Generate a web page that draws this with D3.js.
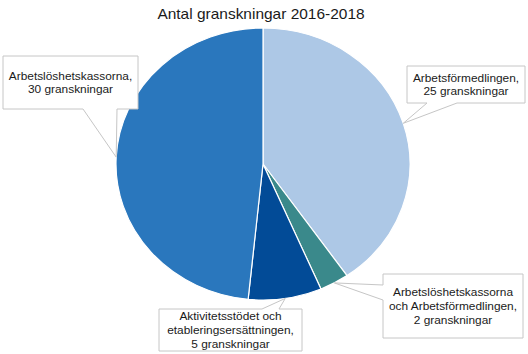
<!DOCTYPE html>
<html>
<head>
<meta charset="utf-8">
<script src="https://d3js.org/d3.v7.min.js"></script>
<style>
  body { margin: 0; background: #fff; }
  text { font-family: "Liberation Sans", Arial, sans-serif; fill: #1a1a1a; }
</style>
</head>
<body>
<script>
  const w = 528
  const h = 354
  const title = "Antal granskningar 2016-2018"
  // slices in clockwise order from 12 o'clock
  const categories = ["Arbetsförmedlingen", "Arbetslöshetskassorna och Arbetsförmedlingen", "Aktivitetsstödet och etableringsersättningen", "Arbetslöshetskassorna"]
  const values = [25, 2, 5, 30]
  const colors = ["#adc8e6", "#3a898b", "#024b97", "#2a77bd"]
  const labelLines = [
    ["Arbetsförmedlingen,", "25 granskningar"],
    ["Arbetslöshetskassorna", "och Arbetsförmedlingen,", "2 granskningar"],
    ["Aktivitetsstödet  och", "etableringsersättningen,", "5 granskningar"],
    ["Arbetslöshetskassorna,", "30 granskningar"]
  ]
  // label boxes: x, y, width, height, side of the pointer, pointer base offsets along that side
  const boxes = [
    { x: 407, y: 66, w: 118, h: 37, side: "bottom", a: 20, b: 50 },
    { x: 383, y: 274, w: 140, h: 64, side: "left", a: 11, b: 26 },
    { x: 159, y: 309, w: 143, h: 42, side: "top", a: 103, b: 120 },
    { x: 3, y: 56, w: 135, h: 53, side: "bottom", a: 80, b: 114 }
  ]

  const cx = 263, cy = 164, rx = 147, ry = 136
  // the whole source picture is a little wider than tall
  const stretch = 1.08

  const svg = d3.select("body").append("svg")
    .attr("width", w)
    .attr("height", h)

  svg.append("text")
    .attr("transform", `translate(261,19) scale(1.06,1)`)
    .attr("text-anchor", "middle")
    .style("font-size", "14.6px")
    .text(title)

  const pie = d3.pie().sort(null).value(d => d)(values)
  const arc = d3.arc().innerRadius(0).outerRadius(rx)

  svg.append("g")
    .attr("transform", `translate(${cx},${cy}) scale(1,${ry / rx})`)
    .selectAll("path")
    .data(pie)
    .join("path")
    .attr("d", arc)
    .attr("fill", (d, i) => colors[i])
    .attr("stroke", "#fff")
    .attr("stroke-width", 1.2)
    .attr("vector-effect", "non-scaling-stroke")

  // pointer tip sits on the ellipse edge at the slice's mid angle
  function tipOf(d) {
    const m = (d.startAngle + d.endAngle) / 2
    return [cx + rx * Math.sin(m), cy - ry * Math.cos(m)]
  }

  function calloutPath(b, tip) {
    const x0 = b.x, y0 = b.y, x1 = b.x + b.w, y1 = b.y + b.h
    let pts
    if (b.side === "bottom") {
      pts = [[x0, y0], [x1, y0], [x1, y1], [x0 + b.b, y1], tip, [x0 + b.a, y1], [x0, y1]]
    } else if (b.side === "top") {
      pts = [[x0, y0], [x0 + b.a, y0], tip, [x0 + b.b, y0], [x1, y0], [x1, y1], [x0, y1]]
    } else {
      pts = [[x0, y0], [x1, y0], [x1, y1], [x0, y1], [x0, y0 + b.b], tip, [x0, y0 + b.a]]
    }
    return d3.line()(pts) + "Z"
  }

  const labels = svg.append("g")
    .selectAll("g")
    .data(pie)
    .join("g")

  labels.append("path")
    .attr("d", (d, i) => calloutPath(boxes[i], tipOf(d)))
    .attr("fill", "#fff")
    .attr("stroke", "#c6c6c6")
    .attr("stroke-width", 1)

  labels.each(function (d, i) {
    const b = boxes[i]
    const lines = labelLines[i]
    const lh = 13.8
    const y0 = b.y + b.h / 2 - (lines.length - 1) * lh / 2 + 4
    d3.select(this).append("text")
      .attr("transform", `translate(${b.x + b.w / 2},0) scale(${stretch},1)`)
      .attr("text-anchor", "middle")
      .style("font-size", "11px")
      .selectAll("tspan")
      .data(lines)
      .join("tspan")
      .attr("x", 0)
      .attr("y", (l, j) => y0 + j * lh)
      .text(l => l)
  })
</script>
</body>
</html>
